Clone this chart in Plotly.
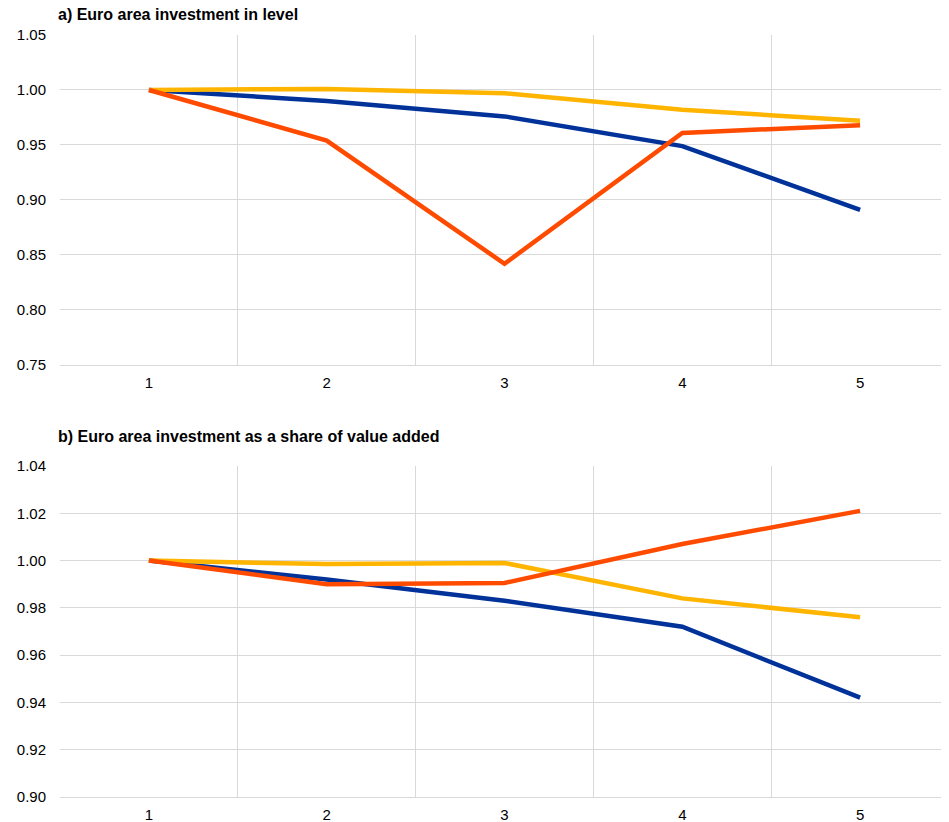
import plotly.graph_objects as go
from plotly.subplots import make_subplots

periods = ["1", "2", "3", "4", "5"]

# panel a) investment in level
level_blue = [1.000, 0.990, 0.976, 0.949, 0.891]
level_yellow = [1.000, 1.001, 0.997, 0.982, 0.972]
level_orange = [1.000, 0.954, 0.842, 0.961, 0.968]

# panel b) investment as a share of value added
share_blue = [1.000, 0.992, 0.983, 0.972, 0.942]
share_yellow = [1.000, 0.9985, 0.999, 0.984, 0.976]
share_orange = [1.000, 0.990, 0.9905, 1.007, 1.021]

titles = ["a) Euro area investment in level", "b) Euro area investment as a share of value added"]

BLUE = "#003299"
YELLOW = "#FFB400"
ORANGE = "#FF4B00"
GRID = "#d9d9d9"
FONT = "Liberation Sans, Arial, sans-serif"

fig = make_subplots(rows=2, cols=1, vertical_spacing=0.1)

for row, series in [(1, [level_blue, level_yellow, level_orange]),
                    (2, [share_blue, share_yellow, share_orange])]:
    for vals, col in zip(series, [BLUE, YELLOW, ORANGE]):
        fig.add_trace(go.Scatter(x=periods, y=vals, mode="lines",
                                 line=dict(color=col, width=4.5),
                                 showlegend=False), row=row, col=1)

fig.update_xaxes(type="category", tickson="boundaries", showgrid=True,
                 gridcolor=GRID, gridwidth=1, showline=True, linecolor=GRID,
                 ticks="", ticklabelstandoff=4,
                 tickfont=dict(size=15, color="#000000", family=FONT),
                 range=[-0.5, 4.5])
fig.update_yaxes(showgrid=True, gridcolor=GRID, gridwidth=1, zeroline=False,
                 ticks="", ticklabelstandoff=13,
                 tickfont=dict(size=15, color="#000000", family=FONT))

fig.update_yaxes(range=[0.75, 1.05], dtick=0.05, tickformat=".2f", row=1, col=1)
fig.update_yaxes(range=[0.90, 1.04], dtick=0.02, tickformat=".2f", row=2, col=1)

# page body adds an 8px offset, so the figure is sized to fit the window
fig.update_layout(
    width=941, height=814,
    margin=dict(l=52, r=0, t=27, b=25),
    plot_bgcolor="white", paper_bgcolor="white",
    font=dict(family=FONT, color="#000000"),
    yaxis=dict(domain=[0.567, 1.0]),
    yaxis2=dict(domain=[0.0, 0.4344]),
)

for ytop, shift, text in zip([1.0, 0.4344], [21, 29], titles):
    fig.add_annotation(x=0, y=ytop, xref="paper", yref="paper",
                       xanchor="left", yanchor="middle", yshift=shift, xshift=-3,
                       text="<b>" + text + "</b>", showarrow=False, borderpad=0,
                       font=dict(size=16, color="#000000", family=FONT))

fig.write_html("out.html")
